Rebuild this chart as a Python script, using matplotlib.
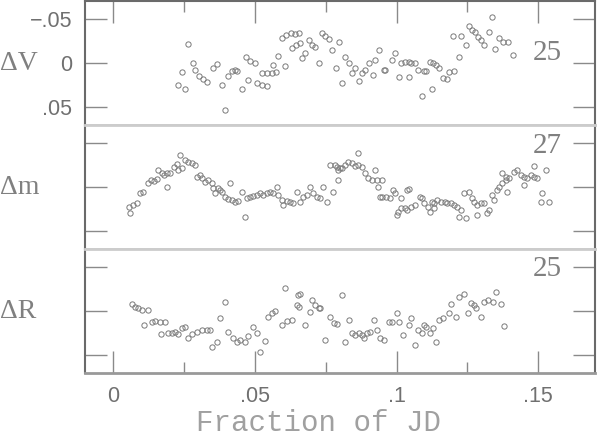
import matplotlib
matplotlib.use("Agg")
import matplotlib.pyplot as plt
from matplotlib.ticker import FixedLocator, FixedFormatter

# ---------------- data ----------------
# Panel 1: Delta V
xV = [0.0264,0.0243,0.0229,0.0253,0.0282,0.0289,0.0303,0.0317,0.0331,0.0352,
      0.0366,0.0384,0.0394,0.0405,0.0419,0.0429,0.0436,0.0454,0.0468,0.0482,
      0.0500,0.0475,0.0507,0.0524,0.0542,0.0524,0.0542,0.0560,0.0574,0.0563,
      0.0581,0.0605,0.0595,0.0609,0.0627,0.0641,0.0630,0.0644,0.0655,0.0658,
      0.0665,0.0676,0.0690,0.0700,0.0711,0.0725,0.0736,0.0746,0.0760,0.0771,
      0.0785,0.0796,0.0806,0.0817,0.0831,0.0841,0.0852,0.0866,0.0876,0.0887,
      0.0901,0.0915,0.0922,0.0936,0.0954,0.0960,0.0982,0.0993,0.1007,0.1017,
      0.1028,0.1042,0.1052,0.1063,0.1045,0.1077,0.1095,0.1105,0.1091,0.1116,
      0.1130,0.1140,0.1126,0.1151,0.1165,0.1176,0.1186,0.1204,0.1200,0.1228,
      0.1221,0.1243,0.1257,0.1267,0.1278,0.1288,0.1299,0.1309,0.1327,0.1338,
      0.1348,0.1362,0.1376,0.1394,0.1412]
yV = [-0.0216,0.0102,0.0250,0.0295,0.0,0.0080,0.0148,0.0182,0.0216,0.0057,
      0.0011,0.0250,0.0534,0.0148,0.0091,0.0080,0.0091,0.0295,-0.0068,-0.0023,
      0.0,0.0193,0.0227,0.0250,0.0261,0.0114,0.0114,0.0114,0.0102,0.0023,
      -0.0080,0.0034,-0.0284,-0.0318,-0.0341,-0.0330,-0.0170,-0.0204,-0.0341,-0.0227,
      -0.0057,-0.0114,-0.0261,-0.0204,-0.0182,0.0,-0.0341,-0.0307,-0.0273,-0.0148,
      0.0057,-0.0239,0.0227,-0.0068,0.0,0.0114,0.0057,0.0204,0.0114,0.0080,
      0.0,0.0136,-0.0034,-0.0148,0.0080,0.0080,-0.0034,-0.0114,0.0159,0.0,
      -0.0011,-0.0011,0.0,0.0,0.0159,0.0080,0.0091,0.0091,0.0375,-0.0011,
      0.0,0.0023,0.0295,0.0057,0.0170,0.0182,0.0102,0.0091,-0.0307,-0.0307,
      -0.0068,-0.0204,-0.0420,-0.0375,-0.0352,-0.0295,-0.0261,-0.0204,-0.0352,-0.0523,
      -0.0159,-0.0284,-0.0239,-0.0239,-0.0091]

# Panel 2: Delta m
xM = [0.0060,0.0056,0.0070,0.0084,0.0095,0.0106,0.0123,0.0134,0.0144,0.0155,
      0.0158,0.0172,0.0180,0.0190,0.0201,0.0190,0.0215,0.0225,0.0229,0.0243,
      0.0236,0.0253,0.0264,0.0278,0.0289,0.0296,0.0306,0.0313,0.0324,0.0334,
      0.0348,0.0352,0.0359,0.0370,0.0377,0.0384,0.0412,0.0394,0.0405,0.0419,
      0.0429,0.0440,0.0454,0.0465,0.0472,0.0482,0.0493,0.0507,0.0517,0.0528,
      0.0542,0.0553,0.0563,0.0577,0.0581,0.0595,0.0598,0.0612,0.0623,0.0634,
      0.0648,0.0658,0.0669,0.0683,0.0693,0.0704,0.0718,0.0729,0.0739,0.0753,
      0.0774,0.0764,0.0781,0.0792,0.0806,0.0792,0.0788,0.0799,0.0817,0.0827,
      0.0841,0.0852,0.0862,0.0876,0.0862,0.0887,0.0898,0.0912,0.0922,0.0929,
      0.0950,0.0933,0.0940,0.0950,0.0964,0.0975,0.0986,0.0993,0.1017,0.1035,
      0.1045,0.1000,0.1003,0.1017,0.1028,0.1038,0.1052,0.1063,0.1081,0.1091,
      0.1098,0.1109,0.1123,0.1133,0.1144,0.1116,0.1133,0.1158,0.1169,0.1179,
      0.1193,0.1204,0.1214,0.1228,0.1221,0.1246,0.1239,0.1257,0.1267,0.1274,
      0.1285,0.1299,0.1309,0.1320,0.1327,0.1338,0.1345,0.1355,0.1362,0.1373,
      0.1387,0.1390,0.1285,0.1373,0.1387,0.1397,0.1415,0.1426,0.1440,0.1450,
      0.1461,0.1475,0.1485,0.1496,0.1450,0.1485,0.1528,0.1514,0.1510,0.1538]
yM = [0.0295,0.0227,0.0204,0.0182,0.0068,0.0057,-0.0045,-0.0080,-0.0068,-0.0091,
      -0.0193,-0.0159,-0.0136,-0.0159,-0.0159,0.0,-0.0227,-0.0261,-0.0193,-0.0216,
      -0.0364,-0.0307,-0.0284,-0.0273,-0.0250,-0.0114,-0.0136,-0.0102,-0.0057,-0.0080,
      -0.0045,0.0011,0.0068,0.0011,0.0034,0.0057,-0.0045,0.0114,0.0136,0.0148,
      0.0170,0.0159,0.0057,0.0341,0.0125,0.0114,0.0102,0.0091,0.0068,0.0091,
      0.0068,0.0057,0.0068,0.0,0.0091,0.0148,0.0204,0.0159,0.0170,0.0182,
      0.0057,0.0170,0.0114,0.0091,0.0,0.0068,0.0114,0.0125,0.0,0.0170,
      0.0057,-0.0250,-0.0250,-0.0193,-0.0216,-0.0080,-0.0227,-0.0216,-0.0250,-0.0284,
      -0.0273,-0.0239,-0.0250,-0.0227,-0.0386,-0.0159,-0.0102,-0.0080,-0.0193,-0.0080,
      -0.0080,0.0,0.0114,0.0114,0.0114,0.0125,0.0034,0.0068,0.0125,0.0034,
      0.0023,0.0318,0.0284,0.0239,0.0239,0.0261,0.0227,0.0204,0.0114,0.0125,
      0.0182,0.0227,0.0170,0.0182,0.0148,0.0284,0.0239,0.0170,0.0170,0.0182,
      0.0182,0.0204,0.0227,0.0261,0.0341,0.0352,0.0068,0.0057,0.0125,0.0170,
      0.0204,0.0182,0.0182,0.0295,0.0261,0.0091,0.0148,0.0034,0.0,-0.0045,
      -0.0080,0.0057,0.0318,-0.0159,-0.0114,-0.0102,-0.0170,-0.0193,-0.0136,-0.0114,
      -0.0102,-0.0136,-0.0114,-0.0102,-0.0023,-0.0239,-0.0193,0.0068,0.0170,0.0170]

# Panel 3: Delta R
xR = [0.0067,0.0077,0.0088,0.0102,0.0123,0.0109,0.0137,0.0148,0.0165,0.0183,
      0.0169,0.0194,0.0208,0.0218,0.0229,0.0243,0.0253,0.0264,0.0278,0.0296,
      0.0313,0.0331,0.0341,0.0348,0.0366,0.0377,0.0394,0.0405,0.0422,0.0436,
      0.0447,0.0465,0.0475,0.0493,0.0507,0.0517,0.0535,0.0546,0.0560,0.0570,
      0.0595,0.0612,0.0630,0.0605,0.0648,0.0651,0.0658,0.0655,0.0676,0.0693,
      0.0700,0.0711,0.0725,0.0729,0.0746,0.0764,0.0778,0.0788,0.0806,0.0817,
      0.0831,0.0841,0.0852,0.0866,0.0876,0.0884,0.0894,0.0905,0.0919,0.0929,
      0.0940,0.0954,0.0972,0.0982,0.1000,0.1010,0.1024,0.1042,0.1052,0.1063,
      0.1077,0.1088,0.1095,0.1105,0.1116,0.1130,0.1140,0.1151,0.1165,0.1183,
      0.1193,0.1211,0.1221,0.1236,0.1253,0.1264,0.1274,0.1281,0.1299,0.1309,
      0.1324,0.1341,0.1352,0.1369,0.1380]
yR = [-0.0080,-0.0045,-0.0034,-0.0011,-0.0011,0.0159,0.0125,0.0114,0.0125,0.0125,
      0.0261,0.0250,0.0250,0.0239,0.0261,0.0193,0.0182,0.0307,0.0261,0.0239,
      0.0216,0.0216,0.0216,0.0409,0.0352,0.0080,-0.0102,0.0239,0.0307,0.0352,
      0.0329,0.0352,0.0284,0.0182,0.0250,0.0466,0.0341,0.0068,0.0023,0.0,
      0.0159,0.0114,0.0102,-0.0261,-0.0068,-0.0182,-0.0193,-0.0045,0.0159,0.0011,
      -0.0125,-0.0068,-0.0034,-0.0034,0.0329,0.0068,0.0136,0.0148,-0.0182,0.0352,
      0.0102,0.0250,0.0273,0.0250,0.0273,0.0307,0.0250,0.0239,0.0102,0.0216,
      0.0307,0.0329,0.0125,0.0125,0.0023,0.0125,0.0273,0.0159,0.0080,0.0386,
      0.0216,0.0250,0.0159,0.0182,0.0250,0.0193,0.0352,0.0102,0.0080,0.0023,
      -0.0080,0.0068,-0.0159,-0.0193,0.0023,-0.0091,-0.0068,-0.0034,0.0068,-0.0102,
      -0.0125,-0.0102,-0.0216,-0.0080,0.0170]

panel_labels = ["\u0394V", "\u0394m", "\u0394R"]
panel_counts = ["25", "27", "25"]
ytick_vals = [-0.05, 0.0, 0.05]
ytick_text = ["\u2212.05", "0", ".05"]
xtick_vals = [0.0, 0.05, 0.10, 0.15]
xminor_vals = [0.025, 0.075, 0.125]
xtick_text = ["0", ".05", ".1", ".15"]
xlabel_text = "Fraction of JD"

# ---------------- figure ----------------
W, H = 597, 436
fig = plt.figure(figsize=(W / 100, H / 100), dpi=100)

left = 85 / W
width = (595 - 85) / W
ph = 124 / H
bottoms = [1 - 125 / H, 1 - 249 / H, 1 - 373 / H]

series = [(xV, yV), (xM, yM), (xR, yR)]
label_y_px = [63, 187, 311]
count_y = [-0.0114, -0.0466, -0.0477]

frame_col = "#6a6a6a"
sep_col = "#cccccc"
tick_col = "#8a8a8a"
text_col = "#707070"

for i, (xs, ys) in enumerate(series):
    ax = fig.add_axes([left, bottoms[i], width, ph])
    ax.plot(xs, ys, linestyle="none", marker="o", markersize=3.8,
            markerfacecolor="none", markeredgecolor="#7a7a7a",
            markeredgewidth=0.7)
    ax.set_xlim(-0.01, 0.17)
    ax.set_ylim(0.07, -0.07)

    # y ticks
    ax.yaxis.set_major_locator(FixedLocator(ytick_vals))
    if i == 0:
        ax.yaxis.set_major_formatter(FixedFormatter(ytick_text))
    else:
        ax.set_yticklabels([])
    ax.tick_params(axis="y", which="major", direction="in", length=16,
                   width=1.0, color=tick_col, left=True, right=True,
                   labelsize=15.5, labelcolor=text_col, pad=9)
    ax.tick_params(axis="y", which="minor", left=False, right=False)

    # x ticks
    ax.xaxis.set_major_locator(FixedLocator(xtick_vals))
    ax.xaxis.set_minor_locator(FixedLocator(xminor_vals))
    show_top = (i == 0)
    show_bot = (i == 2)
    ax.tick_params(axis="x", which="major", direction="in", length=16,
                   width=1.0, color=tick_col, top=show_top, bottom=show_bot,
                   labelbottom=show_bot, labelsize=15.5, labelcolor=text_col,
                   pad=9)
    ax.tick_params(axis="x", which="minor", direction="in", length=8,
                   width=1.0, color=tick_col, top=show_top, bottom=show_bot)
    if show_bot:
        ax.xaxis.set_major_formatter(FixedFormatter(xtick_text))

    for lab in ax.get_xticklabels() + ax.get_yticklabels():
        lab.set_family("Liberation Sans")

    # spines
    for s in ("left", "right"):
        ax.spines[s].set_color(frame_col)
        ax.spines[s].set_linewidth(1.5)
    ax.spines["top"].set_color(frame_col if i == 0 else sep_col)
    ax.spines["top"].set_linewidth(1.5 if i == 0 else 2.0)
    ax.spines["bottom"].set_color("#999999" if i == 2 else sep_col)
    ax.spines["bottom"].set_linewidth(2.0)

    ax.text(0.1532, count_y[i], panel_counts[i], ha="center", va="center",
            fontsize=21, family="Liberation Serif", color="#808080")

    fig.text(0.0 / W, 1 - label_y_px[i] / H, panel_labels[i], ha="left",
             va="center", fontsize=20, family="Liberation Serif",
             color="#808080")

fig.text(318 / W, 1 - 423 / H, xlabel_text, ha="center", va="center",
         fontsize=21, family="Liberation Mono", color="#a0a0a0")

fig.savefig("out.png", dpi=100)
